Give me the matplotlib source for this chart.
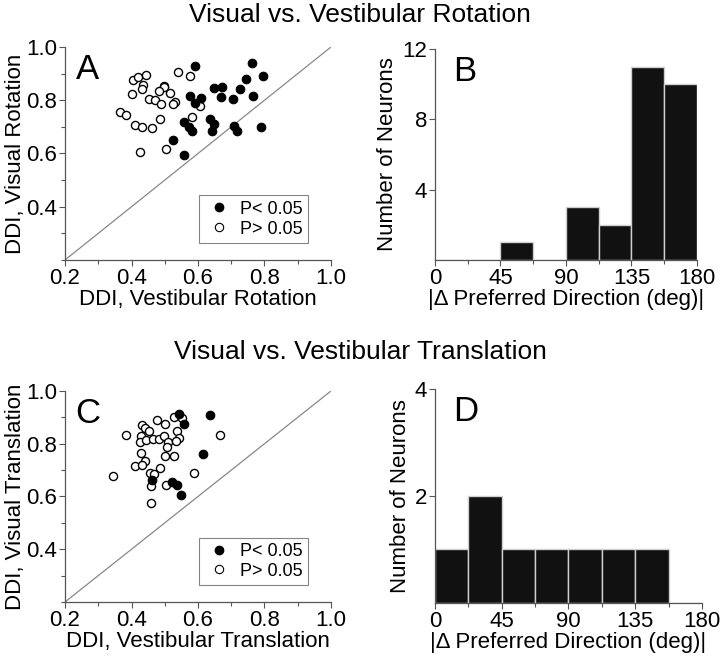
import matplotlib
matplotlib.use('Agg')
import matplotlib.pyplot as plt
from matplotlib.ticker import MultipleLocator
from matplotlib.lines import Line2D

plt.rcParams['font.family'] = ['Liberation Sans', 'DejaVu Sans']

# panel A: rotation DDI (x = vestibular, y = visual)
rot_sig_x = [0.592, 0.762, 0.797, 0.744, 0.649, 0.673, 0.727, 0.575, 0.609, 0.669, 0.706, 0.765,
             0.591, 0.637, 0.557, 0.649, 0.572, 0.583, 0.642, 0.707, 0.717, 0.789, 0.525, 0.559]
rot_sig_y = [0.929, 0.940, 0.891, 0.881, 0.846, 0.849, 0.844, 0.816, 0.810, 0.812, 0.805, 0.816,
             0.791, 0.731, 0.719, 0.710, 0.698, 0.684, 0.684, 0.702, 0.685, 0.701, 0.652, 0.594]
rot_ns_x = [0.405, 0.419, 0.444, 0.435, 0.432, 0.402, 0.540, 0.577, 0.497, 0.499, 0.484, 0.515,
            0.454, 0.472, 0.489, 0.532, 0.525, 0.605, 0.365, 0.384, 0.412, 0.433, 0.461, 0.485,
            0.583, 0.425, 0.503]
rot_ns_y = [0.875, 0.888, 0.895, 0.859, 0.841, 0.825, 0.905, 0.890, 0.854, 0.851, 0.834, 0.829,
            0.806, 0.800, 0.784, 0.792, 0.784, 0.779, 0.756, 0.745, 0.706, 0.698, 0.694, 0.731,
            0.738, 0.606, 0.616]

# panel C: translation DDI
tr_sig_x = [0.544, 0.559, 0.637, 0.614, 0.463, 0.522, 0.537, 0.549]
tr_sig_y = [0.913, 0.875, 0.908, 0.762, 0.663, 0.654, 0.644, 0.604]
tr_ns_x = [0.382, 0.432, 0.442, 0.454, 0.429, 0.427, 0.445, 0.465, 0.482, 0.477, 0.502, 0.527,
           0.552, 0.497, 0.509, 0.507, 0.537, 0.542, 0.535, 0.502, 0.527, 0.665, 0.429, 0.442,
           0.409, 0.432, 0.485, 0.457, 0.467, 0.459, 0.505, 0.345, 0.587, 0.459]
tr_ns_y = [0.834, 0.872, 0.859, 0.849, 0.828, 0.805, 0.815, 0.818, 0.819, 0.891, 0.876, 0.901,
           0.897, 0.830, 0.805, 0.787, 0.847, 0.822, 0.809, 0.752, 0.752, 0.834, 0.765, 0.733,
           0.716, 0.720, 0.708, 0.689, 0.685, 0.638, 0.644, 0.678, 0.689, 0.577]

# panels B, D: histogram of |delta preferred direction|
bin_left = [0, 22.5, 45, 67.5, 90, 112.5, 135, 157.5]
rot_counts = [0, 0, 1, 0, 3, 2, 11, 10]
tr_counts = [1, 2, 1, 1, 1, 1, 1, 0]

fig = plt.figure(figsize=(7.2, 6.59), dpi=100)

ax_a = fig.add_axes([0.0903, 0.6055, 0.3694, 0.3232])
ax_b = fig.add_axes([0.604, 0.6055, 0.364, 0.3202])
ax_c = fig.add_axes([0.0903, 0.0865, 0.3694, 0.3202])
ax_d = fig.add_axes([0.604, 0.085, 0.371, 0.3247])

FS = 16


def style(ax):
    for s in ['top', 'right']:
        ax.spines[s].set_visible(False)
    for s in ['left', 'bottom']:
        ax.spines[s].set_color('#555555')
        ax.spines[s].set_linewidth(0.9)
    ax.tick_params(which='major', length=4, width=0.8, color='#555555', labelsize=FS, pad=1.5)
    ax.tick_params(which='minor', length=3, width=0.8, color='#555555')


def scatter_panel(ax, sx, sy, nx, ny, xlab, ylab, letter):
    ax.plot([0.2, 1.0], [0.2, 1.0], color='#888888', lw=0.9, zorder=1)
    ax.scatter(nx, ny, s=34, facecolor='white', edgecolor='black', linewidth=1.0, zorder=2)
    ax.scatter(sx, sy, s=38, facecolor='black', edgecolor='black', linewidth=0.8, zorder=3)
    ax.set_xlim(0.2, 1.0)
    ax.set_ylim(0.2, 1.0)
    ax.xaxis.set_minor_locator(MultipleLocator(0.1))
    ax.yaxis.set_minor_locator(MultipleLocator(0.1))
    ax.set_xticks([0.2, 0.4, 0.6, 0.8, 1.0])
    ax.set_xticklabels(['0.2', '0.4', '0.6', '0.8', '1.0'])
    ax.set_yticks([0.4, 0.6, 0.8, 1.0])
    ax.set_yticklabels(['0.4', '0.6', '0.8', '1.0'])
    style(ax)
    ax.set_xlabel(xlab, fontsize=FS, labelpad=0)
    ax.set_ylabel(ylab, fontsize=FS, labelpad=0)
    ax.text(0.04, 0.97, letter, transform=ax.transAxes, fontsize=25, va='top', ha='left')
    handles = [Line2D([], [], marker='o', ls='none', mfc='black', mec='black', ms=6),
               Line2D([], [], marker='o', ls='none', mfc='white', mec='black', ms=6, mew=0.8)]
    leg = ax.legend(handles, ['P< 0.05', 'P> 0.05'], loc='lower right',
                    bbox_to_anchor=(0.915, 0.08), fontsize=13, frameon=True, fancybox=False,
                    handletextpad=0.4, borderpad=0.3, labelspacing=0.15, handlelength=1.6,
                    borderaxespad=0)
    leg.get_frame().set_edgecolor('#666666')
    leg.get_frame().set_linewidth(0.8)


def hist_panel(ax, counts, ymax, yticks, letter):
    ax.bar(bin_left, counts, width=22.5, align='edge', color='#111111',
           edgecolor='#d0d0d0', linewidth=1.0)
    ax.set_xlim(0, 180)
    ax.set_ylim(0, ymax)
    ax.set_xticks([0, 45, 90, 135, 180])
    ax.xaxis.set_minor_locator(MultipleLocator(22.5))
    ax.set_yticks(yticks)
    style(ax)
    ax.set_xlabel('|\u0394 Preferred Direction (deg)|', fontsize=FS, labelpad=0)
    ax.set_ylabel('Number of Neurons', fontsize=FS, labelpad=3)
    ax.text(0.07, 0.97, letter, transform=ax.transAxes, fontsize=25, va='top', ha='left')


scatter_panel(ax_a, rot_sig_x, rot_sig_y, rot_ns_x, rot_ns_y,
              'DDI, Vestibular Rotation', 'DDI, Visual Rotation', 'A')
scatter_panel(ax_c, tr_sig_x, tr_sig_y, tr_ns_x, tr_ns_y,
              'DDI, Vestibular Translation', 'DDI, Visual Translation', 'C')
hist_panel(ax_b, rot_counts, 12, [4, 8, 12], 'B')
hist_panel(ax_d, tr_counts, 4, [2, 4], 'D')

fig.text(0.5, 0.977, 'Visual vs. Vestibular Rotation', ha='center', va='center', fontsize=19)
fig.text(0.5, 0.466, 'Visual vs. Vestibular Translation', ha='center', va='center', fontsize=19)

fig.savefig('out.png', dpi=100)
